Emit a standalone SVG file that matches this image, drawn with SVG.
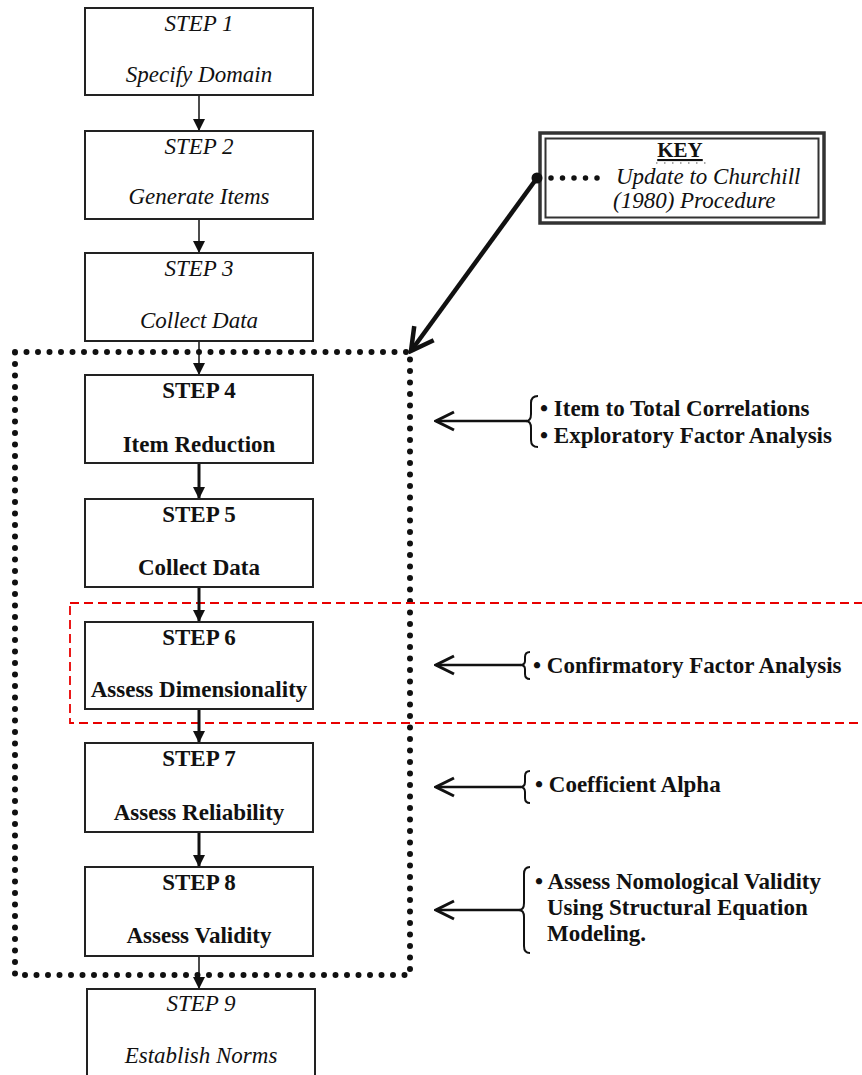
<svg xmlns="http://www.w3.org/2000/svg" width="862" height="1075" viewBox="0 0 862 1075">
<style>
.box{fill:#fff;stroke:#222;stroke-width:2}
.t{font-family:"Liberation Serif","Times New Roman",serif;font-size:23px;fill:#111;text-anchor:middle}
.i{font-style:italic}
.b{font-weight:bold}
.ann{font-family:"Liberation Serif","Times New Roman",serif;font-size:23px;font-weight:bold;fill:#111}
.thin{stroke:#111;stroke-width:1.5;fill:none}
.thick{stroke:#111;stroke-width:3;fill:none}
.side{stroke:#111;stroke-width:2.5;fill:none}
.brace{stroke:#111;stroke-width:2;fill:none}
</style>
<defs>
<marker id="tri" markerUnits="userSpaceOnUse" markerWidth="12" markerHeight="12" viewBox="0 0 12 12" refX="12" refY="6" orient="auto">
<path d="M0,0 L12,6 L0,12 Z" fill="#111"/>
</marker>
<marker id="open" markerUnits="userSpaceOnUse" markerWidth="24" markerHeight="24" viewBox="0 0 24 24" refX="22" refY="12" orient="auto">
<path d="M4,3 L22,12 L4,21" fill="none" stroke="#111" stroke-width="3"/>
</marker>
<marker id="open2" markerUnits="userSpaceOnUse" markerWidth="30" markerHeight="30" viewBox="0 0 30 30" refX="27" refY="15" orient="auto">
<path d="M5,3 L27,15 L5,27" fill="none" stroke="#111" stroke-width="4.5"/>
</marker>
</defs>

<g id="updateRegion">
<rect x="15" y="352" width="395" height="623" fill="none" stroke="#111" stroke-width="6" stroke-linecap="round" stroke-dasharray="0 11.5"/>
</g>
<g id="redRegion">
<rect x="70" y="603" width="810" height="120" fill="none" stroke="#e80000" stroke-width="1.8" stroke-dasharray="9 5"/>
</g>

<g id="connectors">
<line class="thin" x1="199" y1="95" x2="199" y2="131" marker-end="url(#tri)"/>
<line class="thin" x1="199" y1="219" x2="199" y2="253" marker-end="url(#tri)"/>
<line class="thin" x1="199" y1="341" x2="199" y2="375" marker-end="url(#tri)"/>
<line class="thick" x1="199" y1="463" x2="199" y2="499" marker-end="url(#tri)"/>
<line class="thick" x1="199" y1="587" x2="199" y2="622" marker-end="url(#tri)"/>
<line class="thick" x1="199" y1="709" x2="199" y2="743" marker-end="url(#tri)"/>
<line class="thick" x1="199" y1="832" x2="199" y2="867" marker-end="url(#tri)"/>
<line class="thin" x1="199" y1="956" x2="199" y2="989" marker-end="url(#tri)"/>
<line x1="537" y1="178" x2="411" y2="351" stroke="#111" stroke-width="4.5" marker-end="url(#open2)"/>
<line class="side" x1="527" y1="421" x2="436" y2="421" marker-end="url(#open)"/>
<line class="side" x1="521" y1="665" x2="436" y2="665" marker-end="url(#open)"/>
<line class="side" x1="521" y1="787" x2="436" y2="787" marker-end="url(#open)"/>
<line class="side" x1="521" y1="910" x2="436" y2="910" marker-end="url(#open)"/>
</g>

<g id="step1"><rect class="box" x="85" y="8" width="228" height="87"/>
<text class="t i" x="199" y="31">STEP 1</text><text class="t i" x="199" y="82">Specify Domain</text></g>
<g id="step2"><rect class="box" x="85" y="131" width="228" height="88"/>
<text class="t i" x="199" y="154">STEP 2</text><text class="t i" x="199" y="204">Generate Items</text></g>
<g id="step3"><rect class="box" x="85" y="253" width="228" height="88"/>
<text class="t i" x="199" y="276">STEP 3</text><text class="t i" x="199" y="328">Collect Data</text></g>
<g id="step4"><rect class="box" x="85" y="375" width="228" height="88"/>
<text class="t b" x="199" y="398">STEP 4</text><text class="t b" x="199" y="452">Item Reduction</text></g>
<g id="step5"><rect class="box" x="85" y="499" width="228" height="88"/>
<text class="t b" x="199" y="522">STEP 5</text><text class="t b" x="199" y="575">Collect Data</text></g>
<g id="step6"><rect class="box" x="85" y="622" width="228" height="87"/>
<text class="t b" x="199" y="645">STEP 6</text><text class="t b" x="199" y="697">Assess Dimensionality</text></g>
<g id="step7"><rect class="box" x="85" y="743" width="228" height="89"/>
<text class="t b" x="199" y="766">STEP 7</text><text class="t b" x="199" y="820">Assess Reliability</text></g>
<g id="step8"><rect class="box" x="85" y="867" width="228" height="89"/>
<text class="t b" x="199" y="890">STEP 8</text><text class="t b" x="199" y="943">Assess Validity</text></g>
<g id="step9"><rect class="box" x="87" y="989" width="228" height="100"/>
<text class="t i" x="201" y="1011">STEP 9</text><text class="t i" x="201" y="1063">Establish Norms</text></g>

<g id="key">
<rect x="540" y="133" width="284" height="90" fill="#fff" stroke="#333" stroke-width="3.5"/>
<rect x="545.5" y="138.5" width="273" height="79" fill="none" stroke="#333" stroke-width="2"/>
<text x="680" y="157" font-family="Liberation Serif, serif" font-size="21" font-weight="bold" text-anchor="middle" fill="#111" text-decoration="underline">KEY</text>
<line x1="656" y1="163" x2="706" y2="163" stroke="#555" stroke-width="1.2" stroke-dasharray="1.5 6.5"/>
<circle cx="537" cy="178" r="5.5" fill="#111"/>
<line x1="551" y1="178" x2="602" y2="178" stroke="#111" stroke-width="5.5" stroke-linecap="round" stroke-dasharray="0 11.5"/>
<text class="ann" x="616" y="184" style="font-weight:normal;font-style:italic">Update to Churchill</text>
<text class="ann" x="613" y="208" style="font-weight:normal;font-style:italic">(1980) Procedure</text>
</g>

<g id="note1">
<path class="brace" d="M538,396 Q531,396 531,403 L531,414 Q531,421 526,421 Q531,421 531,428 L531,440 Q531,447 538,447"/>
<text class="ann" x="540" y="416">• Item to Total Correlations</text>
<text class="ann" x="540" y="443">• Exploratory Factor Analysis</text>
</g>
<g id="note2">
<path class="brace" d="M530,652 Q525,652 525,657 L525,661 Q525,665 520,665 Q525,665 525,669 L525,674 Q525,679 530,679"/>
<text class="ann" x="533" y="673">• Confirmatory Factor Analysis</text>
</g>
<g id="note3">
<path class="brace" d="M530,771 Q525,771 525,776 L525,782 Q525,787 520,787 Q525,787 525,792 L525,798 Q525,803 530,803"/>
<text class="ann" x="535" y="792">• Coefficient Alpha</text>
</g>
<g id="note4">
<path class="brace" d="M530,867 Q524,867 524,874 L524,903 Q524,910 519,910 Q524,910 524,917 L524,946 Q524,953 530,953"/>
<text class="ann" x="535" y="889">• Assess Nomological Validity</text>
<text class="ann" x="547" y="915">Using Structural Equation</text>
<text class="ann" x="547" y="941">Modeling.</text>
</g>
</svg>
